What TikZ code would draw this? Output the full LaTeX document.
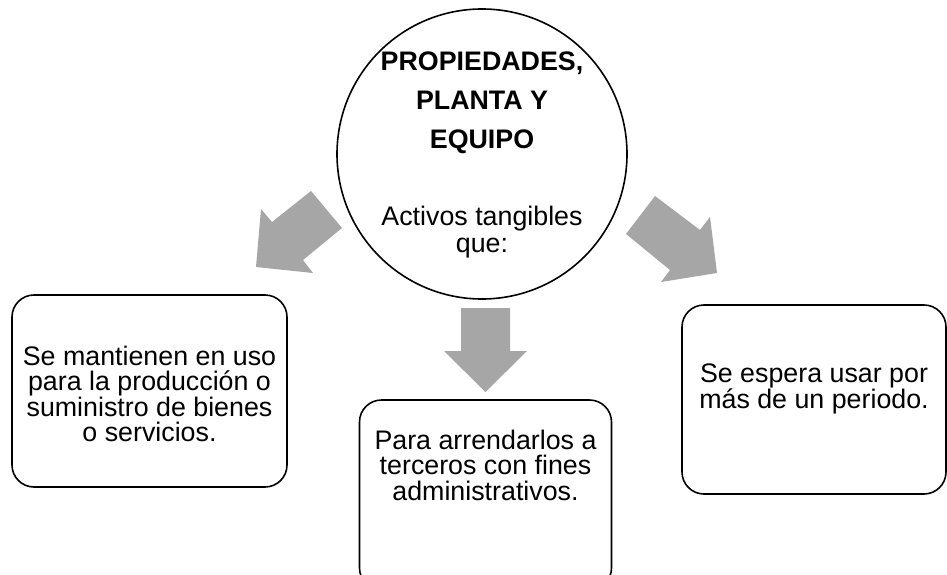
\documentclass[tikz,border=0pt]{standalone}
\usepackage{fontspec}
\setmainfont{Liberation Sans}
\begin{document}
\begin{tikzpicture}[x=1pt,y=-1pt,
  box/.style={draw,line width=1.6pt,rounded corners=22pt,inner sep=0pt},
  blk/.style={fill=black!35,draw=none},
  body/.style={align=center,inner sep=0pt,font=\fontsize{26.8}{25.5}\selectfont},
  ttl/.style={align=center,inner sep=0pt,font=\fontsize{26.8}{39}\selectfont\bfseries}]
\useasboundingbox (0,0) rectangle (947,575);
\clip (0,0) rectangle (947,575);
% central circle
\node[circle,draw,line width=1.6pt,minimum size=290pt,inner sep=0pt] (c) at (482,154) {};
\node[ttl] (t) at (482,103) {PROPIEDADES,\\PLANTA Y\\EQUIPO};
\node[body,font=\fontsize{26.8}{27}\selectfont] (a) at (482,232) {Activos tangibles\\que:};
% boxes
\node[box,minimum width=275pt,minimum height=192pt] (l) at (149.5,391) {};
\node[body] (lt) at (149.5,394) {Se mantienen en uso\\para la producción o\\suministro de bienes\\o servicios.};
\node[box,minimum width=252pt,minimum height=190pt] (m) at (485.5,495) {};
\node[body] (mt) at (485.5,465) {Para arrendarlos a\\terceros con fines\\administrativos.};
\node[box,minimum width=264pt,minimum height=189pt] (r) at (814,399.5) {};
\node[body] (rt) at (814,389) {Se espera usar por\\más de un periodo.};
% block arrows
\fill[blk] (311,191) -- (342,228) -- (303,260) -- (313,273) -- (256,267) -- (261,209) -- (272,222) -- cycle;
\fill[blk] (461,308) -- (510,308) -- (510,351) -- (527,351) -- (485.5,392) -- (444,351) -- (461,351) -- cycle;
\fill[blk] (655,196) -- (700,230) -- (710,217) -- (717,273) -- (661,282) -- (670,270) -- (626,234) -- cycle;
\end{tikzpicture}
\end{document}
